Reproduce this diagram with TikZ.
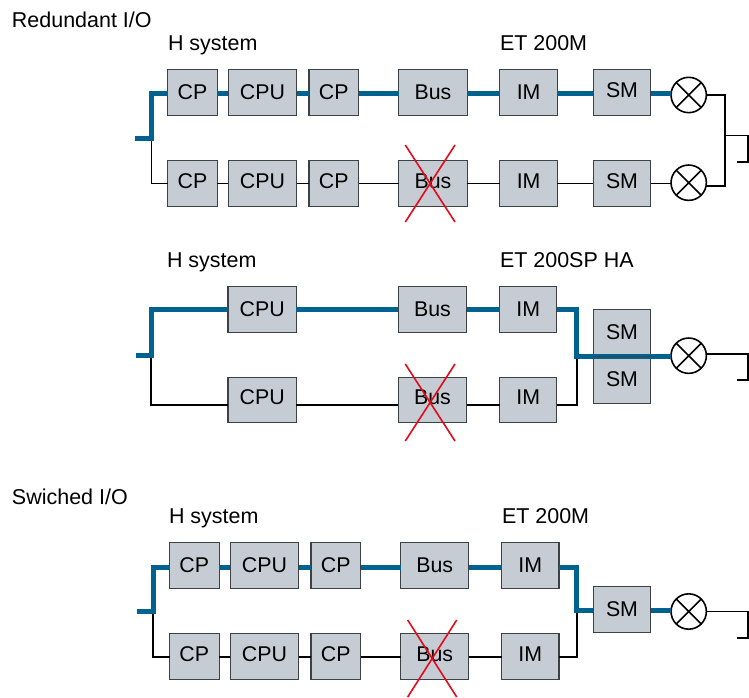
\documentclass[tikz,border=0pt]{standalone}
\usepackage{fontspec}
\setmainfont{Liberation Sans}
\definecolor{boxfill}{HTML}{C5CCD3}
\definecolor{boxedge}{HTML}{3C4146}
\definecolor{petrol}{HTML}{00628E}
\definecolor{crossred}{HTML}{E30A1C}
\tikzset{
  mod/.style={draw=boxedge,fill=boxfill,line width=0.8pt,inner sep=0pt,outer sep=0pt,minimum height=34.3pt,text height=11.5pt,text depth=0pt,font=\fontsize{16pt}{18pt}\selectfont},
  lift/.style={text depth=#1},
  cpbox/.style={mod,minimum width=37.2pt},
  cpubox/.style={mod,minimum width=51.3pt},
  imbox/.style={mod,minimum width=43pt},
  lamp/.style={circle,draw=black,fill=white,line width=1.2pt,minimum size=26.5pt,inner sep=0pt,outer sep=0pt},
  lampx/.style={draw=black,line width=1.2pt},
  wire/.style={draw=black,line width=1.2pt,line join=miter},
  thick wire/.style={draw=petrol,line width=3.75pt,line join=miter},
  xmark/.style={draw=crossred,line width=1.2pt},
  lab/.style={anchor=base west,inner sep=0pt,outer sep=0pt,font=\fontsize{16.1pt}{18pt}\selectfont}
}
\begin{document}
\begin{tikzpicture}[x=0.75pt,y=-0.75pt]
\useasboundingbox (0,0) rectangle (749,698);
% labels
\node[lab] (t1) at (12,27.2) {Redundant I/O};
\node[lab] (t2) at (168,50.8) {H system};
\node[lab] (t3) at (500,50.8) {ET 200M};
\node[lab] (t4) at (167,267.8) {H system};
\node[lab] (t5) at (500,267.8) {ET 200SP HA};
\node[lab] (t6) at (12,504.2) {Swiched I/O};
\node[lab] (t7) at (169,523.5) {H system};
\node[lab] (t8) at (502,523.5) {ET 200M};
% section 1
\node[cpbox] (a1) at (192.5,92.2) {CP};
\node[cpubox] (a2) at (262.5,92.2) {CPU};
\node[cpbox] (a3) at (333.8,92.2) {CP};
\node[cpubox] (a4) at (433,92.2) {Bus};
\node[imbox] (a5) at (528.6,92.2) {IM};
\node[imbox,lift=3pt] (a6) at (622,92.2) {SM};
\node[lamp] (a7) at (688.7,95) {};
\node[cpbox,lift=3.75pt] (b1) at (192.5,183.2) {CP};
\node[cpubox,lift=3.75pt] (b2) at (262.5,183.2) {CPU};
\node[cpbox,lift=3.75pt] (b3) at (333.8,183.2) {CP};
\node[cpubox,lift=3.75pt] (b4) at (433,183.2) {Bus};
\node[imbox,lift=3.75pt] (b5) at (528.6,183.2) {IM};
\node[imbox,lift=3.75pt] (b6) at (622,183.2) {SM};
\node[lamp] (b7) at (688.7,182.7) {};
\coordinate (as) at (135,138.3);
\coordinate (aj) at (151.6,138.3);
\coordinate (ay) at (0,94);
\coordinate (by) at (0,183.7);
\coordinate (ao) at (725,95);
\coordinate (bo) at (725,186);
\coordinate (at) at (725,135.7);
\coordinate (ar) at (747.7,162);
\coordinate (ae) at (737.3,162);
\draw[wire] (aj) |- (b1.west|-by);
\draw[thick wire] (as) -- (aj) |- (a1.west|-ay);
\foreach \p/\q in {a1/a2,a2/a3,a3/a4,a4/a5,a5/a6}{\draw[thick wire] (\p.east|-ay) -- (\q.west|-ay);}
\draw[thick wire] (a6.east|-ay) -- (a7.west|-ay);
\foreach \p/\q in {b1/b2,b2/b3,b3/b4,b4/b5,b5/b6}{\draw[wire] (\p.east|-by) -- (\q.west|-by);}
\draw[wire] (b6.east|-by) -- (b7.west|-by);
\draw[wire] (a7.east) -- (ao) -- (bo) -- (b7.east|-bo);
\draw[wire] (at) -| (ar) -- (ae);
\draw[lampx] (a7.45) -- (a7.225) (a7.135) -- (a7.315);
\draw[lampx] (b7.45) -- (b7.225) (b7.135) -- (b7.315);
\coordinate (ax1) at (405.3,145);
\coordinate (ax2) at (455,222);
\draw[xmark] (ax1) -- (ax2) (ax1-|ax2) -- (ax2-|ax1);
% section 2
\node[cpubox] (c2) at (262.2,309.2) {CPU};
\node[cpubox] (c4) at (432.5,309.2) {Bus};
\node[imbox] (c5) at (528.2,309.2) {IM};
\node[cpubox,lift=4.5pt] (d2) at (262.2,400) {CPU};
\node[cpubox,lift=4.5pt] (d4) at (432.5,400) {Bus};
\node[imbox,lift=4.5pt] (d5) at (528.2,400) {IM};
\node[imbox,minimum height=35pt,lift=1.5pt] (e1) at (622,332.7) {SM};
\node[imbox,minimum height=35pt,lift=1.5pt] (e2) at (622,379.7) {SM};
\node[lamp] (e3) at (688.7,355.7) {};
\coordinate (cs) at (136,355);
\coordinate (cj) at (151,355);
\coordinate (cy) at (0,309.5);
\coordinate (dy) at (0,404.7);
\coordinate (cm) at (576.7,356.7);
\coordinate (co) at (747.7,354);
\coordinate (ce) at (737.3,380);
\draw[wire] (cj) |- (d2.west|-dy);
\draw[thick wire] (cs) -- (cj) |- (c2.west|-cy);
\draw[thick wire] (c2.east|-cy) -- (c4.west|-cy);
\draw[thick wire] (c4.east|-cy) -- (c5.west|-cy);
\draw[wire] (d2.east|-dy) -- (d4.west|-dy);
\draw[wire] (d4.east|-dy) -- (d5.west|-dy);
\draw[wire] (d5.east|-dy) -| (cm);
\draw[thick wire] (c5.east|-cy) -| (cm) -- (e3.west|-cm);
\draw[draw=boxedge,line width=0.8pt] (e1.south west) -- (e1.south east);
\draw[wire] (e3.east|-co) -- (co) |- (ce);
\draw[lampx] (e3.45) -- (e3.225) (e3.135) -- (e3.315);
\coordinate (cx1) at (405.3,364);
\coordinate (cx2) at (455,441);
\draw[xmark] (cx1) -- (cx2) (cx1-|cx2) -- (cx2-|cx1);
% section 3
\node[cpbox,lift=0.75pt] (f1) at (194.3,565.5) {CP};
\node[cpubox,lift=0.75pt] (f2) at (264.5,565.5) {CPU};
\node[cpbox,lift=0.75pt] (f3) at (335.8,565.5) {CP};
\node[cpubox,lift=0.75pt] (f4) at (434.7,565.5) {Bus};
\node[imbox,lift=0.75pt] (f5) at (530.3,565.5) {IM};
\node[cpbox,lift=3pt] (g1) at (194.3,656.3) {CP};
\node[cpubox,lift=3pt] (g2) at (264.5,656.3) {CPU};
\node[cpbox,lift=3pt] (g3) at (335.8,656.3) {CP};
\node[cpubox,lift=3pt] (g4) at (434.7,656.3) {Bus};
\node[imbox,lift=3pt] (g5) at (530.3,656.3) {IM};
\node[imbox,lift=1.5pt] (h1) at (622,609.4) {SM};
\node[lamp] (h2) at (688.7,611.5) {};
\coordinate (fs) at (137,611.7);
\coordinate (fj) at (153,611.7);
\coordinate (fy) at (0,567.3);
\coordinate (gy) at (0,656.7);
\coordinate (fm) at (576.7,610.7);
\coordinate (fo) at (747.7,611.3);
\coordinate (fe) at (737.3,638);
\draw[wire] (fj) |- (g1.west|-gy);
\draw[thick wire] (fs) -- (fj) |- (f1.west|-fy);
\foreach \p/\q in {f1/f2,f2/f3,f3/f4,f4/f5}{\draw[thick wire] (\p.east|-fy) -- (\q.west|-fy);}
\foreach \p/\q in {g1/g2,g2/g3,g3/g4,g4/g5}{\draw[wire] (\p.east|-gy) -- (\q.west|-gy);}
\draw[wire] (g5.east|-gy) -| (fm);
\draw[thick wire] (f5.east|-fy) -| (fm) -- (h1.west|-fm);
\draw[thick wire] (h1.east|-fm) -- (h2.west|-fm);
\draw[wire] (h2.east|-fo) -- (fo) |- (fe);
\draw[lampx] (h2.45) -- (h2.225) (h2.135) -- (h2.315);
\coordinate (fx1) at (407.7,620);
\coordinate (fx2) at (456.7,697);
\draw[xmark] (fx1) -- (fx2) (fx1-|fx2) -- (fx2-|fx1);
\end{tikzpicture}
\end{document}
